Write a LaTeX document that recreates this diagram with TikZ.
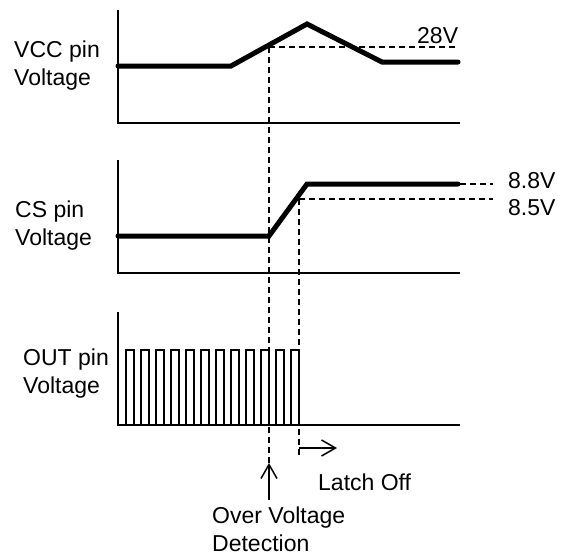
\documentclass[tikz,border=0pt]{standalone}
\usepackage{fontspec}
\setmainfont{Liberation Sans}
\usetikzlibrary{arrows.meta}

\begin{document}
\begin{tikzpicture}[x=1pt,y=-1pt,
  axis/.style={line width=1.5pt},
  wave/.style={line width=5pt,line cap=round},
  pulse/.style={line width=2.5pt},
  guide/.style={line width=1.3pt,dash pattern=on 6pt off 4pt},
  lbl/.style={font=\fontsize{23}{27.5}\selectfont,inner sep=0pt,align=left},
  ptr/.style={line width=1.5pt,-{Straight Barb[length=14pt,width=16pt]}}]
\useasboundingbox (0,0) rectangle (565,555);
% axes
\draw[axis] (118,10) -- (118,123) -- (460,123);
\draw[axis] (118,160) -- (118,273) -- (460,273);
\draw[axis] (118,312) -- (118,425) -- (460,425);
% guide points
\coordinate (ovp) at (269,47);
\coordinate (latchp) at (299,199);
\coordinate (ovdtip) at (269,463);
\coordinate (ovdfoot) at (269,500);
\coordinate (latchfoot) at (299,448);
% VCC
\draw[wave] (118,66) -- (231,66) -- (307,24) -- (382,62) -- (458,62);
\draw[guide] (ovp) -- (455,47);
\node[lbl,anchor=base west] (vcc) at (14,85) {VCC pin\\Voltage};
\node[lbl,anchor=base west] (v28) at (417,43) {28V};
% CS
\draw[wave] (118,236) -- (269,236) -- (307,184) -- (458,184);
\draw[guide] (460,184) -- (493,184);
\draw[guide] (latchp) -- (493,199);
\node[lbl,anchor=base west] (cs) at (15,245) {CS pin\\Voltage};
\node[lbl,anchor=base west] (v88) at (508,188) {8.8V};
\node[lbl,anchor=base west] (v85) at (508,215) {8.5V};
% OUT
\foreach \i in {0,...,11}
  \draw[pulse] ({126+15*\i},425) -- ++(0,-75) -- ++(8,0) -- ++(0,75);
\node[lbl,anchor=base west] (out) at (23,393) {OUT pin\\Voltage};
% detection
\draw[guide] (ovp) -- (ovdtip);
\draw[guide] (latchp) -- (299,458);
\node[lbl,anchor=base west] (ovd) at (212,551) {Over Voltage\\Detection};
\node[lbl,anchor=base west] (latch) at (318,490) {Latch Off};
\draw[ptr] (ovdfoot) -- (ovdtip);
\draw[ptr] (latchfoot) -- ++(38,0);
\end{tikzpicture}
\end{document}
